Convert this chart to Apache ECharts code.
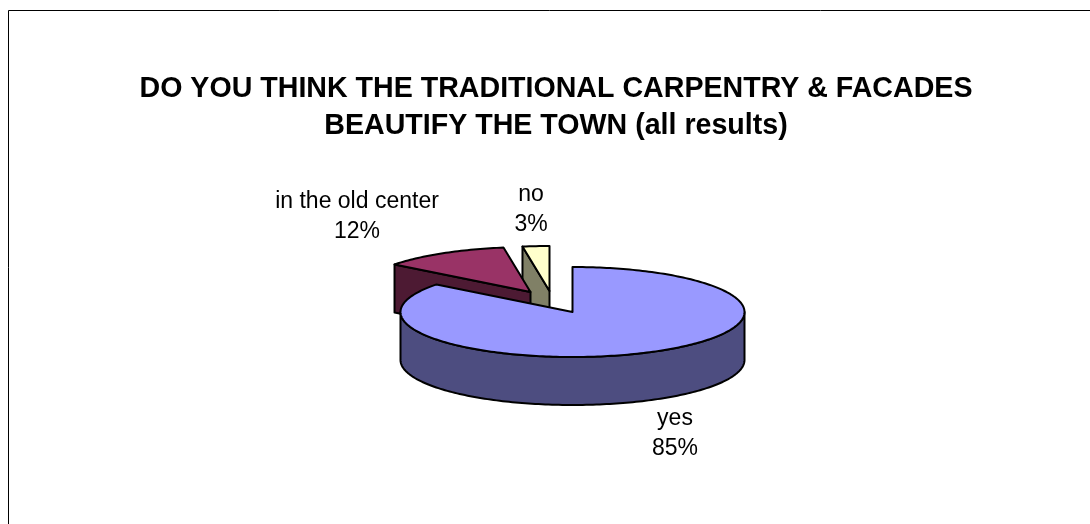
<!DOCTYPE html>
<html><head><meta charset="utf-8">
<style>html,body{margin:0;padding:0;background:#fff}#c{width:1090px;height:524px}</style>
<script src="https://cdn.jsdelivr.net/npm/echarts@6/dist/echarts.min.js"></script>
</head><body><div id="c"></div>
<script>
var titleText = 'DO YOU THINK THE TRADITIONAL CARPENTRY & FACADES\nBEAUTIFY THE TOWN (all results)';
var categories = ['yes', 'in the old center', 'no'];
var values = [85.49, 12.0, 2.51];
var percentLabels = ['85%', '12%', '3%'];

var topColors = ['#9999FF', '#993366', '#FFFFCC'];
var sideColors = ['#4D4D80', '#4D1A33', '#808066'];
var explode = [[0, 0], [-42, -20], [-23, -21]];
var labelAnchors = [[675, 434], [357, 217], [531, 210]];
var pie = { cx: 572.5, cy: 312, rx: 172, ry: 45, depth: 48 };

var total = values.reduce(function (a, b) { return a + b; }, 0);
function startFrac(i) {
  var s = 0;
  for (var k = 0; k < i; k++) s += values[k];
  return s / total;
}
function pt(cx, cy, a) {
  return [cx + pie.rx * Math.sin(a), cy - pie.ry * Math.cos(a)];
}
function arcPts(cx, cy, a0, a1) {
  var n = Math.max(2, Math.ceil(Math.abs(a1 - a0) / 0.02)), out = [];
  for (var i = 0; i <= n; i++) out.push(pt(cx, cy, a0 + (a1 - a0) * i / n));
  return out;
}
var outline = { stroke: '#000', lineWidth: 2, lineJoin: 'round' };
function face(points, fill, z2) {
  return { type: 'polygon', z2: z2, shape: { points: points },
    style: Object.assign({ fill: fill }, outline), silent: true };
}
function renderSlice(params, api) {
  var i = params.dataIndex;
  var v = api.value(0);
  var a0 = startFrac(i) * 2 * Math.PI;
  var a1 = a0 + v / total * 2 * Math.PI;
  var cx = pie.cx + explode[i][0], cy = pie.cy + explode[i][1], d = pie.depth;
  var base = (values.length - i) * 10;
  var kids = [];
  // radial cut face on the leading edge of the exploded slices
  if (i > 0) {
    var p = pt(cx, cy, a0);
    kids.push(face([[cx, cy], p, [p[0], p[1] + d], [cx, cy + d]], sideColors[i], base));
  }
  // outer curved wall: front half of the ellipse only
  var w0 = Math.max(a0, Math.PI / 2), w1 = Math.min(a1, Math.PI * 3 / 2);
  if (w1 > w0) {
    var topEdge = arcPts(cx, cy, w0, w1);
    var botEdge = topEdge.map(function (q) { return [q[0], q[1] + d]; }).reverse();
    kids.push(face(topEdge.concat(botEdge), sideColors[i], base + 1));
  }
  // top surface
  kids.push(face([[cx, cy]].concat(arcPts(cx, cy, a0, a1)), topColors[i], base + 2));
  // label
  kids.push({ type: 'text', z2: 100, silent: true,
    style: { x: labelAnchors[i][0], y: labelAnchors[i][1],
      text: categories[i] + '\n' + percentLabels[i],
      font: '23px "Liberation Sans", Arial, sans-serif', lineHeight: 30,
      fill: '#000', align: 'center', verticalAlign: 'middle' } });
  return { type: 'group', children: kids };
}

var chart = echarts.init(document.getElementById('c'), null, { renderer: 'canvas' });
chart.setOption({
  animation: false,
  backgroundColor: '#fff',
  title: {
    text: titleText, left: 551, top: 66, textAlign: 'center',
    textStyle: { fontFamily: '"Liberation Sans", Arial, sans-serif', fontSize: 28.6, fontWeight: 'bold', lineHeight: 37, color: '#000' }
  },
  graphic: [{ type: 'rect', silent: true, z: 0,
    shape: { x: 8.5, y: 10.5, width: 1400, height: 900 },
    style: { fill: 'transparent', stroke: '#000', lineWidth: 1 } }],
  series: [{
    type: 'custom', coordinateSystem: 'none', renderItem: renderSlice,
    encode: { value: 0 }, silent: true, z: 5,
    data: values.map(function (v) { return [v]; })
  }]
});
</script></body></html>
